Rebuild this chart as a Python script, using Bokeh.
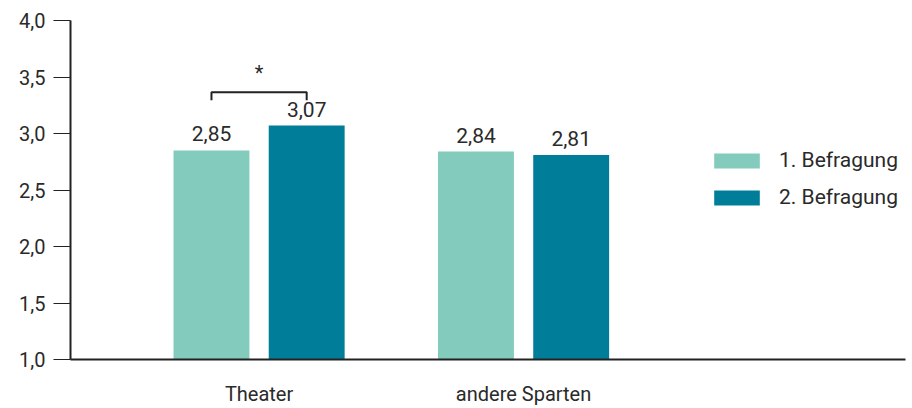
from bokeh.plotting import figure
from bokeh.models import ColumnDataSource, FixedTicker, Legend, LegendItem, Range1d
from bokeh.core.properties import value
from bokeh.embed import file_html
from bokeh.resources import INLINE

categories = ["Theater", "andere Sparten"]
series_names = ["1. Befragung", "2. Befragung"]
befragung1 = [2.85, 2.84]
befragung2 = [3.07, 2.81]
y_ticks = [1.0, 1.5, 2.0, 2.5, 3.0, 3.5, 4.0]
y_tick_labels = ["1,0", "1,5", "2,0", "2,5", "3,0", "3,5", "4,0"]
significance = ["*", ""]

FONT = "Roboto"
C1 = "#82CBBD"
C2 = "#007E99"
TXT = "#2a2a2a"

def fmt(v):
    return f"{v:.2f}".replace(".", ",")

xs = list(range(len(categories)))
off = 0.18
bw = 0.287

s1 = ColumnDataSource(dict(x=[x - off for x in xs], top=befragung1,
                           lab=[fmt(v) for v in befragung1]))
s2 = ColumnDataSource(dict(x=[x + off for x in xs], top=befragung2,
                           lab=[fmt(v) for v in befragung2]))

p = figure(width=912, height=408, output_backend="svg", toolbar_location=None,
           x_range=Range1d(-0.713, 2.444), y_range=Range1d(1.0, 4.0),
           min_border_left=70, min_border_right=7, min_border_top=20, min_border_bottom=20)
p.outline_line_color = None
p.grid.grid_line_color = None
p.background_fill_color = "white"

r1 = p.vbar(x="x", top="top", bottom=1.0, width=bw, source=s1, fill_color=C1, line_color=None)
r2 = p.vbar(x="x", top="top", bottom=1.0, width=bw, source=s2, fill_color=C2, line_color=None)

for s in (s1, s2):
    p.text(x="x", y="top", text="lab", source=s, text_align="center", text_baseline="bottom",
           y_offset=-9, text_font=value(FONT), text_font_size="21px", text_color=TXT)

# significance bracket for categories with a marker
for i, mark in enumerate(significance):
    if not mark:
        continue
    top = max(befragung1[i], befragung2[i])
    yb = top + 0.295
    yl = yb - 0.07
    x0, x1 = i - off, i + off
    p.line(x=[x0, x0, x1, x1], y=[yl, yb, yb, yl], line_color="#222222", line_width=2)
    p.text(x=[i], y=[yb], text=[mark], text_align="center", text_baseline="bottom",
           y_offset=-7, text_font=value(FONT), text_font_size="20px", text_color=TXT)

# axes
p.yaxis.ticker = FixedTicker(ticks=y_ticks)
p.yaxis.major_label_overrides = {t: l for t, l in zip(y_ticks, y_tick_labels)}
p.yaxis.axis_line_width = 2
p.yaxis.axis_line_color = "#222222"
p.yaxis.major_tick_line_color = "#222222"
p.yaxis.major_tick_line_width = 1
p.yaxis.major_tick_out = 17
p.yaxis.major_tick_in = 0
p.yaxis.minor_tick_line_color = None
p.yaxis.major_label_standoff = 8
p.yaxis.major_label_text_font = FONT
p.yaxis.major_label_text_font_size = "20px"
p.yaxis.major_label_text_color = TXT

p.xaxis.ticker = FixedTicker(ticks=xs)
p.xaxis.major_label_overrides = {x: c for x, c in zip(xs, categories)}
p.xaxis.axis_line_width = 2
p.xaxis.axis_line_color = "#222222"
p.xaxis.major_tick_line_color = None
p.xaxis.minor_tick_line_color = None
p.xaxis.major_label_standoff = 16
p.xaxis.major_label_text_font = FONT
p.xaxis.major_label_text_font_size = "20px"
p.xaxis.major_label_text_color = TXT

legend = Legend(items=[LegendItem(label=series_names[0], renderers=[r1]),
                       LegendItem(label=series_names[1], renderers=[r2])],
                location=(638, 150), orientation="vertical",
                glyph_width=57, glyph_height=19, spacing=13, padding=0, margin=0,
                label_standoff=14, border_line_color=None, background_fill_alpha=0,
                label_text_font=FONT, label_text_font_size="21px", label_text_color=TXT)
p.add_layout(legend)

open("out.html", "w").write(file_html(p, INLINE))
